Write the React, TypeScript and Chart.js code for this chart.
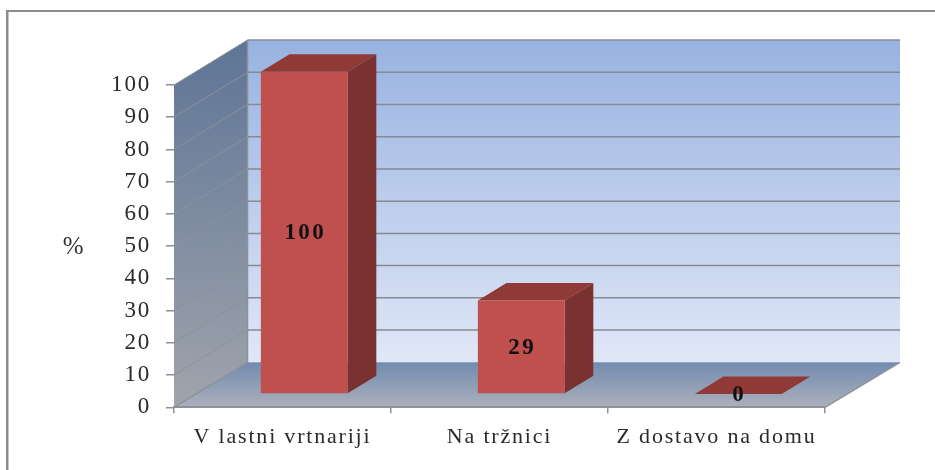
import React, { useEffect, useRef } from "react";
import { Chart, registerables } from "chart.js";

Chart.register(...registerables);

const categories = ["V lastni vrtnariji", "Na tržnici", "Z dostavo na domu"];
const values = [100, 29, 0];
const axisTitle = "%";

const FONT = '"Liberation Serif", "Times New Roman", serif';
const DEPTH_X = 73.5;
const DEPTH_Y = -45;
const BACK_EXTRA = 1.5;
const BAR_START = 0.296;
const BAR_DEPTH = 0.39;

const threeD = {
  id: "threeD",
  beforeDraw(chart: any) {
    const { ctx, chartArea: a, scales } = chart;
    const y = scales.y;
    const bx = a.left + DEPTH_X;
    const rx = a.right + DEPTH_X + BACK_EXTRA;
    const tb = a.top + DEPTH_Y;
    const bb = a.bottom + DEPTH_Y;
    ctx.save();
    ctx.fillStyle = "#ffffff";
    ctx.fillRect(0, 0, chart.width, chart.height);
    // page frame
    ctx.fillStyle = "#8c8c8c";
    ctx.fillRect(6, 10, 929, 2);
    ctx.fillRect(6, 10, 2.5, 460);
    // back wall
    let g = ctx.createLinearGradient(0, tb, 0, bb);
    g.addColorStop(0, "#98b2e1");
    g.addColorStop(1, "#e0e7f7");
    ctx.fillStyle = g;
    ctx.fillRect(bx, tb, rx - bx, bb - tb);
    // side wall
    g = ctx.createLinearGradient(0, tb, 0, a.bottom);
    g.addColorStop(0, "#5e7596");
    g.addColorStop(1, "#a0a4ac");
    ctx.fillStyle = g;
    ctx.beginPath();
    ctx.moveTo(a.left, a.top);
    ctx.lineTo(bx, tb);
    ctx.lineTo(bx, bb);
    ctx.lineTo(a.left, a.bottom);
    ctx.closePath();
    ctx.fill();
    // floor
    g = ctx.createLinearGradient(0, bb, 0, a.bottom);
    g.addColorStop(0, "#728bb0");
    g.addColorStop(1, "#acb0bb");
    ctx.fillStyle = g;
    ctx.beginPath();
    ctx.moveTo(a.left, a.bottom);
    ctx.lineTo(bx, bb);
    ctx.lineTo(rx, bb);
    ctx.lineTo(a.right, a.bottom);
    ctx.closePath();
    ctx.fill();
    // grid lines
    for (const t of y.ticks) {
      if (t.value === 0) continue;
      const py = y.getPixelForValue(t.value);
      ctx.strokeStyle = "#8d9199";
      ctx.lineWidth = 1;
      ctx.beginPath();
      ctx.moveTo(a.left, py);
      ctx.lineTo(bx, py + DEPTH_Y);
      ctx.stroke();
      ctx.strokeStyle = "#868a92";
      ctx.lineWidth = 1.5;
      ctx.beginPath();
      ctx.moveTo(bx, py + DEPTH_Y);
      ctx.lineTo(rx, py + DEPTH_Y);
      ctx.stroke();
    }
    // edges
    ctx.strokeStyle = "#8d9199";
    ctx.lineWidth = 1.5;
    ctx.beginPath();
    ctx.moveTo(a.right, a.bottom);
    ctx.lineTo(rx, bb);
    ctx.moveTo(a.left, a.bottom);
    ctx.lineTo(bx, bb);
    ctx.lineTo(bx, tb);
    ctx.stroke();
    ctx.restore();
    ctx.letterSpacing = "1.8px";
  },
  beforeDatasetsDraw(chart: any) {
    const { ctx } = chart;
    const ox = DEPTH_X * BAR_START;
    const oy = DEPTH_Y * BAR_START;
    const dx = DEPTH_X * BAR_DEPTH;
    const dy = DEPTH_Y * BAR_DEPTH;
    const meta = chart.getDatasetMeta(0);
    ctx.save();
    ctx.translate(ox, oy);
    for (const el of meta.data) {
      const l = el.x - el.width / 2;
      const r = el.x + el.width / 2;
      ctx.fillStyle = "#8f3a36";
      ctx.beginPath();
      ctx.moveTo(l, el.y);
      ctx.lineTo(l + dx, el.y + dy);
      ctx.lineTo(r + dx, el.y + dy);
      ctx.lineTo(r, el.y);
      ctx.closePath();
      ctx.fill();
      ctx.fillStyle = "#7a3230";
      ctx.beginPath();
      ctx.moveTo(r, el.y);
      ctx.lineTo(r + dx, el.y + dy);
      ctx.lineTo(r + dx, el.base + dy);
      ctx.lineTo(r, el.base);
      ctx.closePath();
      ctx.fill();
    }
    ctx.restore();
    ctx.save();
    ctx.translate(ox, oy);
  },
  afterDatasetsDraw(chart: any) {
    const { ctx } = chart;
    ctx.restore();
    const ox = DEPTH_X * BAR_START;
    const oy = DEPTH_Y * BAR_START;
    const meta = chart.getDatasetMeta(0);
    ctx.save();
    ctx.fillStyle = "#111111";
    ctx.font = `bold 23px ${FONT}`;
    ctx.letterSpacing = "2.4px";
    ctx.textAlign = "center";
    ctx.textBaseline = "middle";
    meta.data.forEach((el: any, i: number) => {
      ctx.fillText(String(values[i]), el.x + ox + 1, (el.y + el.base) / 2 + oy + 1);
    });
    ctx.restore();
  },
  afterDraw(chart: any) {
    const { ctx, chartArea: a } = chart;
    ctx.save();
    ctx.fillStyle = "#333333";
    ctx.font = `25px ${FONT}`;
    ctx.textAlign = "center";
    ctx.textBaseline = "middle";
    ctx.fillText(axisTitle, 74, (a.top + a.bottom) / 2 + 1);
    ctx.restore();
  },
};

export default function App() {
  const ref = useRef<HTMLCanvasElement>(null);
  useEffect(() => {
    document.body.style.margin = "0";
    const chart = new Chart(ref.current as HTMLCanvasElement, {
      type: "bar",
      data: {
        labels: categories,
        datasets: [
          {
            data: values,
            backgroundColor: "#c0504d",
            borderWidth: 0,
            barPercentage: 0.4,
            categoryPercentage: 1,
          },
        ],
      },
      plugins: [threeD],
      options: {
        responsive: false,
        animation: false,
        layout: { padding: { top: 85, right: 110, bottom: 0, left: 0 } },
        plugins: { legend: { display: false }, tooltip: { enabled: false } },
        scales: {
          x: {
            afterFit: (s: any) => {
              s.height = 62.7;
            },
            grid: { drawOnChartArea: false, color: "#8d8f94", lineWidth: 1.5, tickLength: 6, offset: true },
            border: { color: "#8d9199", width: 2 },
            ticks: {
              color: "#2a2a2a",
              font: { family: FONT, size: 22 },
              padding: 11,
              maxRotation: 0,
              autoSkip: false,
            },
          },
          y: {
            min: 0,
            max: 100,
            afterFit: (s: any) => {
              s.width = 174;
            },
            grid: { drawOnChartArea: false, color: "#8d8f94", lineWidth: 1.5, tickLength: 8 },
            border: { display: false },
            ticks: {
              stepSize: 10,
              color: "#2a2a2a",
              font: { family: FONT, size: 23 },
              padding: 15,
            },
          },
        },
      },
    } as any);
    return () => chart.destroy();
  }, []);
  return <canvas ref={ref} width={935} height={470} style={{ display: "block" }} />;
}
